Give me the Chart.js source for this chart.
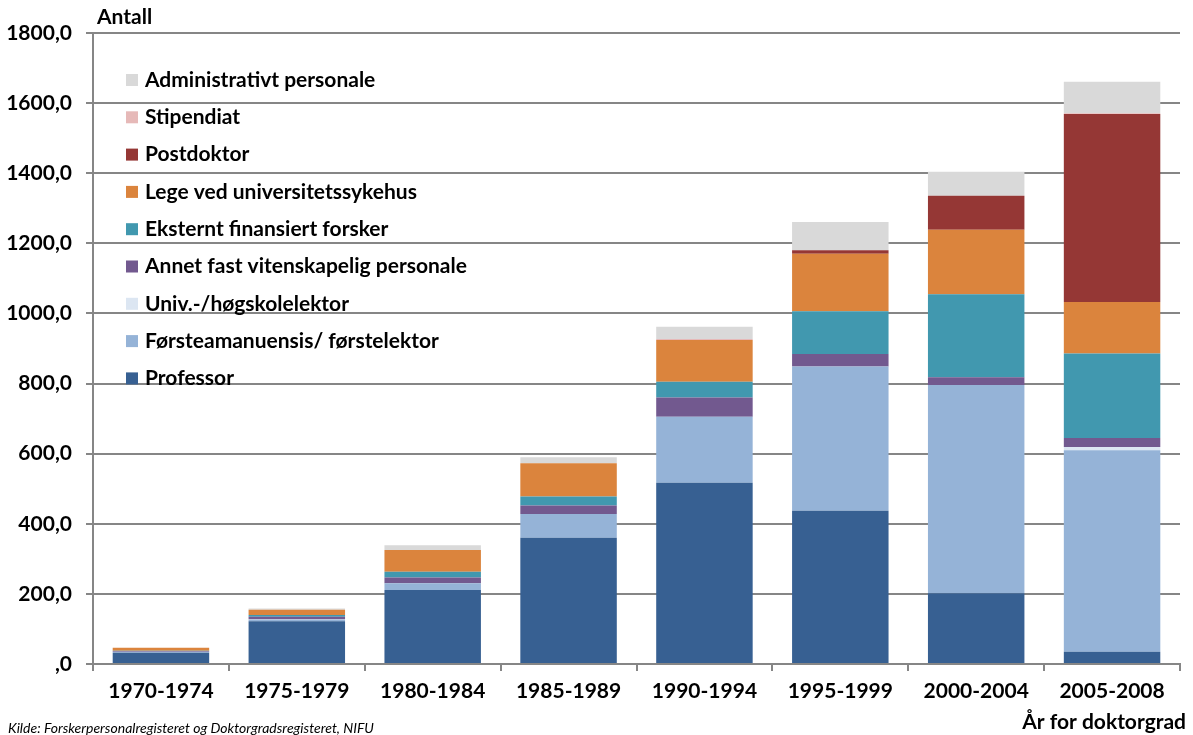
<!DOCTYPE html>
<html>
<head>
<meta charset="utf-8">
<script src="https://cdn.jsdelivr.net/npm/chart.js@4/dist/chart.umd.min.js"></script>
<style>
  html, body { margin: 0; padding: 0; background: #fff; }
  #wrap { width: 1193px; height: 735px; position: relative; }
</style>
</head>
<body>
<div id="wrap"><canvas id="chart"></canvas></div>
<script>
const periods = ['1970-1974', '1975-1979', '1980-1984', '1985-1989', '1990-1994', '1995-1999', '2000-2004', '2005-2008'];
const yTicks = [0, 200, 400, 600, 800, 1000, 1200, 1400, 1600, 1800];

// stacked bottom -> top
const professor = [32, 122, 211, 360, 517, 437, 202, 35];
const forsteamanuensis = [3, 5, 19, 68, 188, 412, 594, 575];
const lektor = [0, 1, 0, 0, 0, 0, 0, 9];
const annetFast = [2, 7, 17, 24, 55, 35, 22, 26];
const eksternt = [1, 5, 16, 26, 45, 122, 237, 241];
const lege = [8, 15, 62, 95, 119, 164, 184, 147];
const postdoktor = [0, 0, 0, 0, 0, 10, 97, 536];
const stipendiat = [0, 0, 0, 0, 3, 0, 0, 2];
const administrativt = [0, 3, 14, 17, 35, 81, 68, 90];

const FONT = 'Lato, "Open Sans", sans-serif';

function ds(label, data, color) {
    return { label: label, data: data, backgroundColor: color, borderWidth: 0 };
}

const data = {
    labels: periods,
    datasets: [
        ds('Professor', professor, '#376092'),
        ds('Førsteamanuensis/ førstelektor', forsteamanuensis, '#95b3d7'),
        ds('Univ.-/høgskolelektor', lektor, '#dce6f2'),
        ds('Annet fast vitenskapelig personale', annetFast, '#72598f'),
        ds('Eksternt finansiert forsker', eksternt, '#4198af'),
        ds('Lege ved universitetssykehus', lege, '#db843d'),
        ds('Postdoktor', postdoktor, '#953735'),
        ds('Stipendiat', stipendiat, '#e6b9b8'),
        ds('Administrativt personale', administrativt, '#d9d9d9')
    ]
};

// legend + extra texts drawn by hand
const extras = {
    id: 'extras',
    afterDraw(chart) {
        const c = chart.ctx;
        const area = chart.chartArea;
        c.save();
        c.fillStyle = '#000';
        c.font = 'bold 21px ' + FONT;
        c.textBaseline = 'middle';
        c.textAlign = 'left';
        c.fillText('Antall', area.left + 4, 17);

        const items = chart.data.datasets.slice().reverse();
        items.forEach(function (d, i) {
            const y = 80 + i * 37.3;
            c.fillStyle = d.backgroundColor;
            c.fillRect(126, y - 6, 12, 12);
            c.fillStyle = '#000';
            c.fillText(d.label, 145, y);
        });

        c.textAlign = 'right';
        c.fillText('År for doktorgrad', 1186, 722);

        c.textAlign = 'left';
        c.font = 'italic 14px ' + FONT;
        c.fillText('Kilde: Forskerpersonalregisteret og Doktorgradsregisteret, NIFU', 8, 728);
        c.restore();
    }
};

const options = {
    responsive: false,
    animation: false,
    layout: { padding: { top: 33, right: 13, left: 0, bottom: 0 } },
    plugins: {
        legend: { display: false },
        tooltip: { enabled: false }
    },
    scales: {
        x: {
            stacked: true,
            afterFit: function (s) { s.height = 71; },
            grid: { drawOnChartArea: false, drawTicks: true, tickLength: 7, color: '#868686', lineWidth: 2 },
            border: { color: '#868686', width: 2 },
            ticks: { color: '#000', font: { family: FONT, size: 21, weight: 'bold' }, padding: 8 }
        },
        y: {
            stacked: true,
            min: 0,
            max: 1800,
            afterFit: function (s) { s.width = 93; },
            afterBuildTicks: function (s) { s.ticks = yTicks.map(function (v) { return { value: v }; }); },
            grid: { color: '#868686', lineWidth: 2, tickLength: 7 },
            border: { color: '#868686', width: 2 },
            ticks: {
                color: '#000',
                padding: 14,
                font: { family: FONT, size: 21, weight: 'bold' },
                callback: function (v) { return v === 0 ? ',0' : v + ',0'; }
            }
        }
    },
    datasets: { bar: { categoryPercentage: 1, barPercentage: 0.71 } }
};

const canvas = document.getElementById('chart');
canvas.width = 1193;
canvas.height = 735;
new Chart(canvas, { type: 'bar', data: data, options: options, plugins: [extras] });
</script>
</body>
</html>
